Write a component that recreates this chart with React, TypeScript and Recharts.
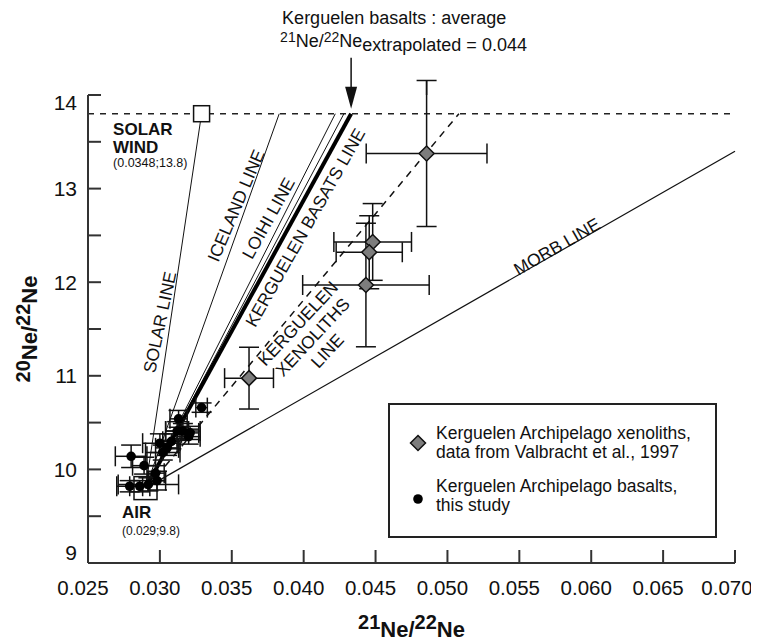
import React from 'react';
import {
  ScatterChart,
  Scatter,
  XAxis,
  YAxis,
  ErrorBar,
  ReferenceLine,
  ReferenceDot,
  Legend,
} from 'recharts';

const FONT = "'Liberation Sans', Arial, Helvetica, sans-serif";

// ---- axes ----
const xTicks = [0.025, 0.03, 0.035, 0.04, 0.045, 0.05, 0.055, 0.06, 0.065, 0.07];
const yTicks = [9, 9.5, 10, 10.5, 11, 11.5, 12, 12.5, 13, 13.5, 14];
const yLabelledTicks = [9, 10, 11, 12, 13, 14];

// ---- Kerguelen Archipelago xenoliths (Valbracht et al., 1997) ----
const xenolithX = [0.04855, 0.0448, 0.04456, 0.04433, 0.0362];
const xenolithY = [13.375, 12.43, 12.32, 11.97, 10.975];
const xenolithXErr = [0.0042, 0.0027, 0.0023, 0.0044, 0.0017];
const xenolithYErr = [0.78, 0.41, 0.39, 0.66, 0.33];

// ---- Kerguelen Archipelago basalts (this study) ----
const basaltX = [0.028, 0.0289, 0.0297, 0.0279, 0.0286, 0.0292, 0.0298, 0.03, 0.0305, 0.0302, 0.0308, 0.0312, 0.0316, 0.032, 0.0321, 0.0313, 0.0329];
const basaltY = [10.14, 10.04, 9.96, 9.82, 9.82, 9.84, 9.88, 10.28, 10.23, 10.18, 10.3, 10.41, 10.41, 10.35, 10.39, 10.54, 10.66];
const basaltXErr = [0.0011, 0.0008, 0.0006, 0.0009, 0.0007, 0.0021, 0.0006, 0.0012, 0.0008, 0.0012, 0.0006, 0.0008, 0.0012, 0.0008, 0.0006, 0.0006, 0.0004];
const basaltYErr = [0.12, 0.09, 0.08, 0.06, 0.06, 0.07, 0.1, 0.1, 0.08, 0.08, 0.08, 0.1, 0.08, 0.08, 0.07, 0.09, 0.05];

// ---- end-members ----
const airPoint = { x: 0.029, y: 9.8 };
const solarWindPoint = { x: 0.0329, y: 13.8 };
const solarWindLevel = 13.8;

// ---- mixing lines: start at air, end at 21Ne/22Ne where 20Ne/22Ne = 13.8 ----
const icelandEndX = 0.0383;
const loihiEndX = 0.0422;
const companionEndX = 0.0428;
const kerguelenBasaltsEndX = 0.0433;
const xenolithLineStart = { x: 0.0292, y: 9.82 };
const xenolithLineEnd = { x: 0.0508, y: 13.8 };
const morbLineEnd = { x: 0.07, y: 13.4 };

const xenoliths = xenolithX.map((x, i) => ({ x, y: xenolithY[i], ex: xenolithXErr[i], ey: xenolithYErr[i] }));
const basalts = basaltX.map((x, i) => ({ x, y: basaltY[i], ex: basaltXErr[i], ey: basaltYErr[i] }));

// ---- rotated line labels (anchor in data coordinates) ----
const lineLabels = [
  { x: 0.02998, y: 11.574, angle: -78, lines: ['SOLAR LINE'] },
  { x: 0.03528, y: 12.819, angle: -67, lines: ['ICELAND LINE'] },
  { x: 0.03754, y: 12.686, angle: -61, lines: ['LOIHI LINE'] },
  { x: 0.04009, y: 12.585, angle: -60.5, lines: ['KERGUELEN BASATS LINE'] },
  { x: 0.04061, y: 11.415, angle: -47, lines: ['KERGUELEN', 'XENOLITHS', 'LINE'] },
  { x: 0.05761, y: 12.383, angle: -30, lines: ['MORB LINE'] },
];

const TICK = 13;
const INK = '#111';
const FRAME = '#333';

const BottomTick = (props: any) => {
  const { x, y, payload } = props;
  const v = Number(payload.value);
  const shift = v >= 0.0699 ? -8 : -5;
  return (
    <g>
      <line x1={x} y1={y} x2={x} y2={y - TICK} stroke={FRAME} strokeWidth={2} />
      <text x={x + shift} y={y + 25} dy="0.36em" textAnchor="middle" fontFamily={FONT} fontSize={20.5} fill={INK}>
        {v.toFixed(3)}
      </text>
    </g>
  );
};

const TopTick = (props: any) => {
  const { x, y } = props;
  return <line x1={x} y1={y} x2={x} y2={y + TICK} stroke={FRAME} strokeWidth={2} />;
};

const LeftTick = (props: any) => {
  const { x, y, payload } = props;
  const v = Number(payload.value);
  const labelled = yLabelledTicks.includes(v);
  const nudge = v === 9 ? -11 : v === 14 ? 7 : 0;
  return (
    <g>
      <line x1={x} y1={y} x2={x + TICK} y2={y} stroke={FRAME} strokeWidth={2} />
      {labelled && (
        <text x={x - 11} y={y + nudge} dy="0.36em" textAnchor="end" fontFamily={FONT} fontSize={21} fill={INK}>
          {v}
        </text>
      )}
    </g>
  );
};

const RightTick = (props: any) => {
  const { x, y } = props;
  return <line x1={x - TICK} y1={y} x2={x} y2={y} stroke={FRAME} strokeWidth={2} />;
};

const XTitle = (props: any) => {
  const vb = props.viewBox || {};
  const cx = vb.x + vb.width / 2;
  const by = vb.y + 74;
  return (
    <text x={cx} y={by} textAnchor="middle" fontFamily={FONT} fontWeight="bold" fontSize={22} fill={INK}>
      <tspan fontSize={20} dy={-8}>21</tspan>
      <tspan dy={8}>Ne/</tspan>
      <tspan fontSize={20} dy={-8}>22</tspan>
      <tspan dy={8}>Ne</tspan>
    </text>
  );
};

const YTitle = (props: any) => {
  const vb = props.viewBox || {};
  const cx = 29;
  const cy = vb.y + vb.height / 2;
  return (
    <text x={cx} y={cy} transform={`rotate(-90, ${cx}, ${cy})`} textAnchor="middle" fontFamily={FONT} fontWeight="bold" fontSize={22} fill={INK}>
      <tspan fontSize={20} dy={-7}>20</tspan>
      <tspan dy={7}>Ne/</tspan>
      <tspan fontSize={20} dy={-7}>22</tspan>
      <tspan dy={7}>Ne</tspan>
    </text>
  );
};

const Diamond = (props: any) => {
  const { cx, cy } = props;
  const r = 7.5;
  return (
    <polygon
      points={`${cx},${cy - r} ${cx + r},${cy} ${cx},${cy + r} ${cx - r},${cy}`}
      fill="#7d7d7d"
      stroke={INK}
      strokeWidth={1.5}
    />
  );
};

const Dot = (props: any) => {
  const { cx, cy } = props;
  return <circle cx={cx} cy={cy} r={4.8} fill="#000" />;
};

const SolarWindMark = (props: any) => {
  const { cx, cy } = props;
  return (
    <g fontFamily={FONT} fill={INK}>
      <rect x={cx - 8} y={cy - 8} width={16} height={16} fill="#fff" stroke={INK} strokeWidth={1.5} />
      <text x={cx - 88.5} y={cy + 15} dy="0.36em" fontWeight="bold" fontSize={17}>SOLAR</text>
      <text x={cx - 88.5} y={cy + 33} dy="0.36em" fontWeight="bold" fontSize={17}>WIND</text>
      <text x={cx - 88.5} y={cy + 49} dy="0.36em" fontSize={12.5}>(0.0348;13.8)</text>
    </g>
  );
};

const AirMark = (props: any) => {
  const { cx, cy } = props;
  return (
    <g fontFamily={FONT} fill={INK}>
      <rect x={cx - 11.5} y={cy - 11.5} width={23} height={23} fill="none" stroke={INK} strokeWidth={1.5} />
      <text x={cx - 23.5} y={cy + 24} dy="0.36em" fontWeight="bold" fontSize={17}>AIR</text>
      <text x={cx - 23.5} y={cy + 43} dy="0.36em" fontSize={12}>(0.029;9.8)</text>
    </g>
  );
};

const ArrowNote = (props: any) => {
  const { cx, cy } = props;
  return (
    <g fontFamily={FONT} fill={INK}>
      <line x1={cx} y1={cy - 56} x2={cx} y2={cy - 24} stroke={INK} strokeWidth={1.5} />
      <polygon points={`${cx - 6},${cy - 27} ${cx + 6},${cy - 27} ${cx},${cy - 5}`} fill={INK} />
      <text x={cx - 69} y={cy - 90} fontSize={18}>Kerguelen basalts : average</text>
      <text x={cx - 71} y={cy - 67} fontSize={18}>
        <tspan fontSize={14} dy={-5}>21</tspan>
        <tspan dy={5}>Ne/</tspan>
        <tspan fontSize={14} dy={-5}>22</tspan>
        <tspan dy={5}>Ne</tspan>
        <tspan dy={4}>extrapolated = 0.044</tspan>
      </text>
    </g>
  );
};

const makeLineLabel = (lines: string[], angle: number) => (props: any) => {
  const { cx, cy } = props;
  const lh = 20;
  return (
    <text transform={`rotate(${angle}, ${cx}, ${cy})`} textAnchor="middle" fontFamily={FONT} fontSize={17.5} fill={INK}>
      {lines.map((l, i) => (
        <tspan key={i} x={cx} y={cy + (i - (lines.length - 1) / 2) * lh} dy="0.36em">
          {l}
        </tspan>
      ))}
    </text>
  );
};

const LegendBox = () => (
  <div
    style={{
      position: 'relative',
      width: 329,
      height: 135,
      boxSizing: 'border-box',
      border: '2px solid #222',
      background: '#fff',
      fontFamily: FONT,
      fontSize: 17.5,
      lineHeight: '18.5px',
      color: INK,
      textAlign: 'left',
    }}
  >
    <svg style={{ position: 'absolute', left: 19, top: 29 }} width={18} height={18}>
      <polygon points="9,1.5 16.5,9 9,16.5 1.5,9" fill="#7d7d7d" stroke={INK} strokeWidth={1.5} />
    </svg>
    <div style={{ position: 'absolute', left: 46, top: 19, whiteSpace: 'nowrap' }}>
      Kerguelen Archipelago xenoliths,
      <br />
      data from Valbracht et al., 1997
    </div>
    <svg style={{ position: 'absolute', left: 19, top: 85 }} width={18} height={18}>
      <circle cx={9} cy={9} r={4.8} fill="#000" />
    </svg>
    <div style={{ position: 'absolute', left: 46, top: 72, whiteSpace: 'nowrap', lineHeight: '19px' }}>
      Kerguelen Archipelago basalts,
      <br />
      this study
    </div>
  </div>
);

export default function App() {
  const A = xenoliths[0];
  return (
    <ScatterChart width={751} height={635} margin={{ top: 87, right: 24, bottom: 0, left: 0 }}>
      <XAxis
        type="number"
        dataKey="x"
        domain={[0.025, 0.07]}
        ticks={xTicks}
        interval={0}
        allowDataOverflow
        tickSize={0}
        tickMargin={0}
        tickLine={false}
        tick={<BottomTick />}
        axisLine={{ stroke: FRAME, strokeWidth: 2 }}
        height={80}
        label={{ content: <XTitle /> } as any}
      />
      <XAxis
        xAxisId="t"
        orientation="top"
        type="number"
        domain={[0.025, 0.07]}
        ticks={xTicks}
        interval={0}
        allowDataOverflow
        tickSize={0}
        tickMargin={0}
        tickLine={false}
        tick={<TopTick />}
        axisLine={{ stroke: FRAME, strokeWidth: 2 }}
        height={0}
      />
      <YAxis
        type="number"
        dataKey="y"
        domain={[9, 14]}
        ticks={yTicks}
        interval={0}
        allowDataOverflow
        tickSize={0}
        tickMargin={0}
        tickLine={false}
        tick={<LeftTick />}
        axisLine={{ stroke: FRAME, strokeWidth: 2 }}
        width={80}
        label={{ content: <YTitle /> } as any}
      />
      <YAxis
        yAxisId="r"
        orientation="right"
        type="number"
        domain={[9, 14]}
        ticks={yTicks}
        interval={0}
        allowDataOverflow
        tickSize={0}
        tickMargin={0}
        tickLine={false}
        tick={<RightTick />}
        axisLine={{ stroke: FRAME, strokeWidth: 2 }}
        width={0}
      />

      <ReferenceLine y={solarWindLevel} stroke="#222" strokeWidth={1.5} strokeDasharray="6 6" />

      <ReferenceLine segment={[airPoint, solarWindPoint]} stroke={INK} strokeWidth={1} />
      <ReferenceLine segment={[airPoint, { x: icelandEndX, y: solarWindLevel }]} stroke={INK} strokeWidth={1} />
      <ReferenceLine segment={[airPoint, { x: loihiEndX, y: solarWindLevel }]} stroke={INK} strokeWidth={1} />
      <ReferenceLine segment={[airPoint, { x: companionEndX, y: solarWindLevel }]} stroke={INK} strokeWidth={1} />
      <ReferenceLine segment={[airPoint, { x: kerguelenBasaltsEndX, y: solarWindLevel }]} stroke="#000" strokeWidth={4} />
      <ReferenceLine segment={[xenolithLineStart, xenolithLineEnd]} stroke={INK} strokeWidth={1.5} strokeDasharray="7 6" />
      <ReferenceLine segment={[airPoint, morbLineEnd]} stroke={INK} strokeWidth={1.2} />

      <ReferenceLine
        segment={[{ x: A.x, y: 14 }, { x: A.x, y: A.y + A.ey }]}
        stroke={INK}
        strokeWidth={1.5}
        ifOverflow="visible"
      />

      <ReferenceDot x={solarWindPoint.x} y={solarWindPoint.y} r={0} shape={(p: any) => <SolarWindMark {...p} />} />
      <ReferenceDot x={airPoint.x} y={airPoint.y} r={0} shape={(p: any) => <AirMark {...p} />} />
      <ReferenceDot x={kerguelenBasaltsEndX} y={solarWindLevel} r={0} shape={(p: any) => <ArrowNote {...p} />} />

      {lineLabels.map((lab, i) => {
        const Shape = makeLineLabel(lab.lines, lab.angle);
        return <ReferenceDot key={i} x={lab.x} y={lab.y} r={0} shape={(p: any) => <Shape {...p} />} />;
      })}

      <Scatter name="xenoliths" data={xenoliths} shape={<Diamond />} isAnimationActive={false}>
        <ErrorBar dataKey="ex" direction="x" width={10} stroke={INK} strokeWidth={1.5} />
        <ErrorBar dataKey="ey" direction="y" width={10} stroke={INK} strokeWidth={1.5} />
      </Scatter>
      <Scatter name="basalts" data={basalts} shape={<Dot />} isAnimationActive={false}>
        <ErrorBar dataKey="ex" direction="x" width={10} stroke={INK} strokeWidth={1.5} />
        <ErrorBar dataKey="ey" direction="y" width={10} stroke={INK} strokeWidth={1.5} />
      </Scatter>

      <Legend
        layout="horizontal"
        verticalAlign="middle"
        align="center"
        content={<LegendBox />}
        wrapperStyle={{ left: 380, top: 395, width: 329, height: 135 }}
      />
    </ScatterChart>
  );
}
